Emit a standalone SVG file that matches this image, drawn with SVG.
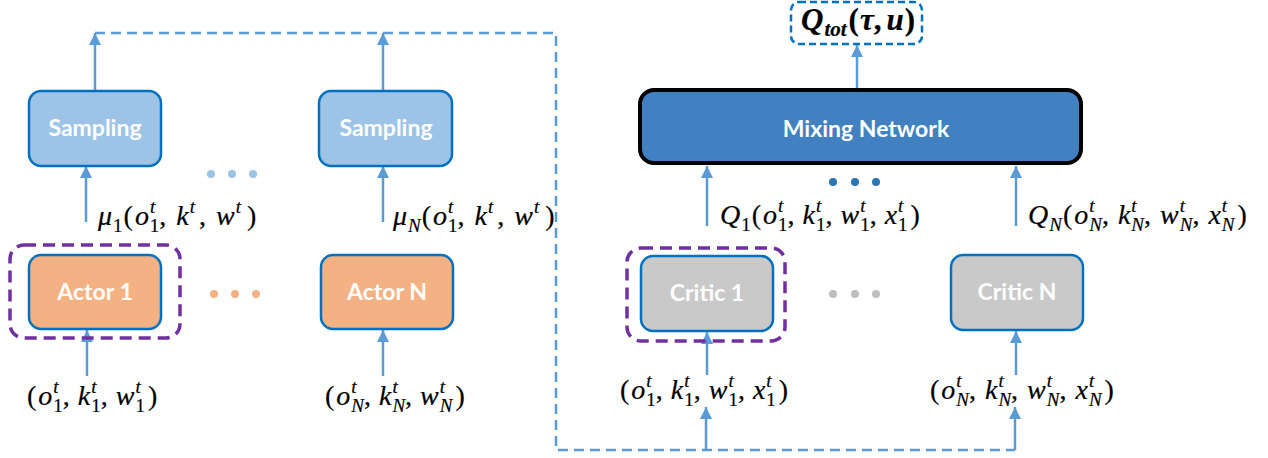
<svg xmlns="http://www.w3.org/2000/svg" width="1268" height="458" viewBox="0 0 1268 458">
<style>
.box{stroke:#0070C0;stroke-width:2.5}
.samp{fill:#9DC3E6}
.actor{fill:#F4B183}
.critic{fill:#C9C9C9}
.lbl{font-family:Lato,"Liberation Sans",sans-serif;font-weight:bold;font-size:23px;fill:#fff;text-anchor:middle}
.arr{stroke:#5B9BD5;stroke-width:2.5;fill:none;marker-end:url(#ah)}
.dash{stroke:#5B9BD5;stroke-width:2.5;fill:none;stroke-dasharray:10 6}
.grp{stroke:#7030A0;stroke-width:3.5;fill:none;stroke-dasharray:12 7}
.m{font-family:"Liberation Serif",serif;font-size:28px;fill:#000;stroke:#000;stroke-width:0.2}
.i{font-style:italic}
.s{font-size:19px}
.b{font-weight:bold}
</style>
<defs>
<marker id="ah" viewBox="0 0 10 10" refX="10" refY="5" markerUnits="userSpaceOnUse" markerWidth="12" markerHeight="12" orient="auto">
<path d="M0,0 L10,5 L0,10 z" fill="#5B9BD5"/>
</marker>
</defs>

<g id="connectors">
<path class="dash" d="M95,33 H556 V450 H1015"/>
<line class="arr" x1="95" y1="91" x2="95" y2="33"/>
<line class="arr" x1="383" y1="91" x2="383" y2="33"/>
<line class="arr" x1="86" y1="222" x2="86" y2="166"/>
<line class="arr" x1="383" y1="222" x2="383" y2="166"/>
<line class="arr" x1="87" y1="376" x2="87" y2="330"/>
<line class="arr" x1="383" y1="376" x2="383" y2="330"/>
<line class="arr" x1="707" y1="375" x2="707" y2="332"/>
<line class="arr" x1="1016" y1="375" x2="1016" y2="331"/>
<line class="arr" x1="706" y1="450" x2="706" y2="407"/>
<line class="arr" x1="1015" y1="450" x2="1015" y2="407"/>
<line class="arr" x1="707" y1="226" x2="707" y2="166"/>
<line class="arr" x1="1016" y1="226" x2="1016" y2="166"/>
<line class="arr" x1="857" y1="89" x2="857" y2="45"/>
</g>

<g id="sampling1">
<rect class="box samp" x="29" y="91" width="132" height="75" rx="12"/>
<text class="lbl" x="95" y="136">Sampling</text>
</g>
<g id="samplingN">
<rect class="box samp" x="319" y="91" width="133" height="75" rx="12"/>
<text class="lbl" x="386" y="136">Sampling</text>
</g>
<g id="dots-sampling" fill="#9DC3E6">
<circle cx="211" cy="174" r="4"/><circle cx="232" cy="174" r="4"/><circle cx="253" cy="174" r="4"/>
</g>

<g id="actor1">
<rect class="grp" x="10" y="245" width="170" height="93" rx="14"/>
<rect class="box actor" x="29" y="255" width="132" height="74" rx="12"/>
<text class="lbl" x="95" y="300">Actor 1</text>
</g>
<g id="actorN">
<rect class="box actor" x="321" y="255" width="132" height="74" rx="12"/>
<text class="lbl" x="387" y="300">Actor N</text>
</g>
<g id="dots-actor" fill="#F4B183">
<circle cx="214" cy="294" r="4"/><circle cx="235" cy="294" r="4"/><circle cx="256" cy="294" r="4"/>
</g>

<g id="critic1">
<rect class="grp" x="627" y="248" width="158" height="93" rx="14"/>
<rect class="box critic" x="641" y="256" width="132" height="75" rx="12"/>
<text class="lbl" x="707" y="301">Critic 1</text>
</g>
<g id="criticN">
<rect class="box critic" x="951" y="255" width="132" height="75" rx="12"/>
<text class="lbl" x="1017" y="300">Critic N</text>
</g>
<g id="dots-critic" fill="#BFBFBF">
<circle cx="833" cy="294" r="4"/><circle cx="855" cy="294" r="4"/><circle cx="876" cy="294" r="4"/>
</g>

<g id="mixing">
<rect x="640" y="90" width="441" height="73" rx="14" fill="#4281C1" stroke="#000" stroke-width="4"/>
<text class="lbl" x="866" y="137">Mixing Network</text>
</g>
<g id="dots-mixing" fill="#2E75B6">
<circle cx="833" cy="182" r="4"/><circle cx="855" cy="182" r="4"/><circle cx="876" cy="182" r="4"/>
</g>

<g id="qtot">
<rect x="791" y="2" width="131" height="42" rx="8" fill="#fff" stroke="#0070C0" stroke-width="2.5" stroke-dasharray="7 4"/>
<text class="m b" x="801" y="30" style="font-size:31px;stroke-width:0.2"><tspan class="i">Q</tspan><tspan class="i" style="font-size:21px" dx="1" dy="6">tot</tspan><tspan dy="-6" dx="2">(</tspan><tspan class="i" dx="1">τ</tspan>,<tspan class="i" dx="5">u</tspan><tspan dx="1">)</tspan></text>
</g>

<g id="labels">
<text class="m" x="98" y="225"><tspan class="i">μ</tspan><tspan class="s" dx="1" dy="7">1</tspan><tspan dy="-7" dx="1">(</tspan><tspan class="i" dx="2">o</tspan><tspan class="s i" dx="1" dy="-12">t</tspan><tspan class="s" dx="-5.3" dy="19">1</tspan><tspan dy="-7">,</tspan><tspan class="i" dx="10">k</tspan><tspan class="s i" dx="1" dy="-12">t</tspan><tspan dy="12" dx="4">,</tspan><tspan class="i" dx="10">w</tspan><tspan class="s i" dx="1" dy="-12">t</tspan><tspan dy="12" dx="6">)</tspan></text>

<text class="m" x="393" y="225"><tspan class="i">μ</tspan><tspan class="s i" dx="1" dy="7">N</tspan><tspan dy="-7" dx="1">(</tspan><tspan class="i" dx="2">o</tspan><tspan class="s i" dx="1" dy="-12">t</tspan><tspan class="s" dx="-5.3" dy="19">1</tspan><tspan dy="-7">,</tspan><tspan class="i" dx="10">k</tspan><tspan class="s i" dx="1" dy="-12">t</tspan><tspan dy="12" dx="4">,</tspan><tspan class="i" dx="10">w</tspan><tspan class="s i" dx="1" dy="-12">t</tspan><tspan dy="12" dx="6">)</tspan></text>

<text class="m" x="720" y="224"><tspan class="i">Q</tspan><tspan class="s" dx="1" dy="7">1</tspan><tspan dy="-7" dx="1">(</tspan><tspan class="i" dx="2">o</tspan><tspan class="s i" dx="1" dy="-12">t</tspan><tspan class="s" dx="-5.3" dy="19">1</tspan><tspan dy="-7">,</tspan><tspan class="i" dx="8">k</tspan><tspan class="s i" dx="1" dy="-12">t</tspan><tspan class="s" dx="-5.3" dy="19">1</tspan><tspan dy="-7">,</tspan><tspan class="i" dx="8">w</tspan><tspan class="s i" dx="1" dy="-12">t</tspan><tspan class="s" dx="-5.3" dy="19">1</tspan><tspan dy="-7">,</tspan><tspan class="i" dx="8">x</tspan><tspan class="s i" dx="1" dy="-12">t</tspan><tspan class="s" dx="-5.3" dy="19">1</tspan><tspan dy="-7" dx="3">)</tspan></text>

<text class="m" x="1028" y="224"><tspan class="i">Q</tspan><tspan class="s i" dx="1" dy="7">N</tspan><tspan dy="-7" dx="1">(</tspan><tspan class="i" dx="2">o</tspan><tspan class="s i" dx="1" dy="-12">t</tspan><tspan class="s i" dx="-5.3" dy="19">N</tspan><tspan dy="-7">,</tspan><tspan class="i" dx="9">k</tspan><tspan class="s i" dx="1" dy="-12">t</tspan><tspan class="s i" dx="-5.3" dy="19">N</tspan><tspan dy="-7">,</tspan><tspan class="i" dx="9">w</tspan><tspan class="s i" dx="1" dy="-12">t</tspan><tspan class="s i" dx="-5.3" dy="19">N</tspan><tspan dy="-7">,</tspan><tspan class="i" dx="9">x</tspan><tspan class="s i" dx="1" dy="-12">t</tspan><tspan class="s i" dx="-5.3" dy="19">N</tspan><tspan dy="-7" dx="3">)</tspan></text>

<text class="m" x="27" y="405">(<tspan class="i" dx="2">o</tspan><tspan class="s i" dx="1" dy="-12">t</tspan><tspan class="s" dx="-5.3" dy="19">1</tspan><tspan dy="-7">,</tspan><tspan class="i" dx="8">k</tspan><tspan class="s i" dx="1" dy="-12">t</tspan><tspan class="s" dx="-5.3" dy="19">1</tspan><tspan dy="-7">,</tspan><tspan class="i" dx="8">w</tspan><tspan class="s i" dx="1" dy="-12">t</tspan><tspan class="s" dx="-5.3" dy="19">1</tspan><tspan dy="-7" dx="3">)</tspan></text>

<text class="m" x="325" y="405">(<tspan class="i" dx="2">o</tspan><tspan class="s i" dx="1" dy="-12">t</tspan><tspan class="s i" dx="-5.3" dy="19">N</tspan><tspan dy="-7">,</tspan><tspan class="i" dx="8">k</tspan><tspan class="s i" dx="1" dy="-12">t</tspan><tspan class="s i" dx="-5.3" dy="19">N</tspan><tspan dy="-7">,</tspan><tspan class="i" dx="8">w</tspan><tspan class="s i" dx="1" dy="-12">t</tspan><tspan class="s i" dx="-5.3" dy="19">N</tspan><tspan dy="-7" dx="3">)</tspan></text>

<text class="m" x="620" y="399">(<tspan class="i" dx="2">o</tspan><tspan class="s i" dx="1" dy="-12">t</tspan><tspan class="s" dx="-5.3" dy="19">1</tspan><tspan dy="-7">,</tspan><tspan class="i" dx="8">k</tspan><tspan class="s i" dx="1" dy="-12">t</tspan><tspan class="s" dx="-5.3" dy="19">1</tspan><tspan dy="-7">,</tspan><tspan class="i" dx="8">w</tspan><tspan class="s i" dx="1" dy="-12">t</tspan><tspan class="s" dx="-5.3" dy="19">1</tspan><tspan dy="-7">,</tspan><tspan class="i" dx="8">x</tspan><tspan class="s i" dx="1" dy="-12">t</tspan><tspan class="s" dx="-5.3" dy="19">1</tspan><tspan dy="-7" dx="3">)</tspan></text>

<text class="m" x="930" y="399">(<tspan class="i" dx="2">o</tspan><tspan class="s i" dx="1" dy="-12">t</tspan><tspan class="s i" dx="-5.3" dy="19">N</tspan><tspan dy="-7">,</tspan><tspan class="i" dx="9">k</tspan><tspan class="s i" dx="1" dy="-12">t</tspan><tspan class="s i" dx="-5.3" dy="19">N</tspan><tspan dy="-7">,</tspan><tspan class="i" dx="9">w</tspan><tspan class="s i" dx="1" dy="-12">t</tspan><tspan class="s i" dx="-5.3" dy="19">N</tspan><tspan dy="-7">,</tspan><tspan class="i" dx="9">x</tspan><tspan class="s i" dx="1" dy="-12">t</tspan><tspan class="s i" dx="-5.3" dy="19">N</tspan><tspan dy="-7" dx="3">)</tspan></text>
</g>
</svg>
